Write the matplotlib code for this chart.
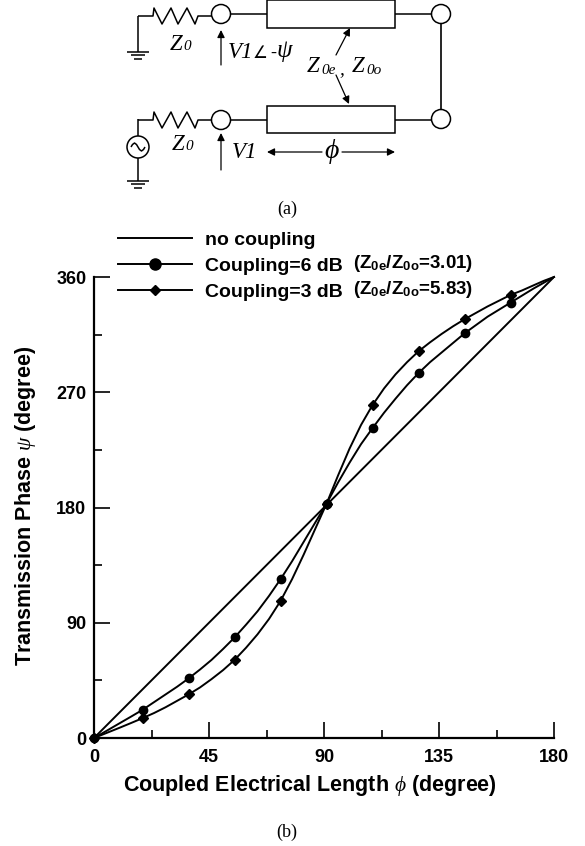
import matplotlib
matplotlib.use('Agg')
import matplotlib.pyplot as plt
from matplotlib.patches import Circle, Rectangle

plt.rcParams['font.family'] = ['Liberation Sans', 'DejaVu Sans']
plt.rcParams['mathtext.fontset'] = 'custom'
plt.rcParams['mathtext.bf'] = 'Liberation Sans:bold'
plt.rcParams['mathtext.it'] = 'Liberation Serif:italic'
plt.rcParams['mathtext.rm'] = 'Liberation Sans:bold'

# data
phi_line = [0, 180]
psi_line = [0, 360]

phi = [0, 5, 10, 14.5, 19, 23.5, 28, 32.5, 37, 41.5, 46, 50.5, 55, 59.5, 64, 68.5, 73, 77.5, 82, 86.5, 91,
       95.5, 100, 104.5, 109, 113.5, 118, 122.5, 127, 131.5, 136, 140.5, 145, 149.5, 154, 158.5, 163,
       167.5, 172, 176, 180]
psi_6db = [0, 5.7, 11.5, 16.7, 22, 28, 34, 40, 46.5, 53.5, 61, 69.5, 78.5, 88.5, 99, 111, 124, 138, 153, 168, 183,
           199.5, 215, 229.5, 242, 254, 265, 275.5, 285, 293.5, 301, 308.5, 316, 322.5, 329, 334.5, 340,
           345.5, 351, 355.5, 360]
psi_3db = [0, 4, 8, 11.7, 15.5, 19.5, 24, 29, 34, 39.5, 46, 53, 61, 70.5, 81, 93, 107, 124, 143, 163, 183,
           205, 226, 244.5, 260, 273, 284, 293.5, 302, 309, 315.5, 321.5, 327, 332, 337, 341.5, 346,
           349.5, 353.5, 357, 360]
phi_marks = [0, 19, 37, 55, 73, 91, 109, 127, 145, 163]
marked = [phi.index(v) for v in phi_marks]

x_major = [0, 45, 90, 135, 180]
x_minor = [22.5, 67.5, 112.5, 157.5]
y_major = [0, 90, 180, 270, 360]
y_minor = [45, 135, 225, 315]

W, H = 585, 846
fig = plt.figure(figsize=(W / 100, H / 100), dpi=100)

# chart (b)
ax = fig.add_axes([94 / W, (H - 738) / H, 460 / W, 461 / H])
ax.plot(phi_line, psi_line, color='black', lw=1.4, label='no coupling')
ax.plot(phi, psi_6db, color='black', lw=1.4, marker='o', ms=6, markevery=marked,
        clip_on=False, label='Coupling=6 dB')
ax.plot(phi, psi_3db, color='black', lw=1.4, marker='D', ms=5.5, markevery=marked,
        clip_on=False, label='Coupling=3 dB')
ax.set_xlim(0, 180)
ax.set_ylim(0, 360)
ax.set_xticks(x_major)
ax.set_xticks(x_minor, minor=True)
ax.set_yticks(y_major)
ax.set_yticks(y_minor, minor=True)
ax.tick_params(which='major', direction='in', length=11.5, width=1.2)
ax.tick_params(axis='x', which='major', pad=8)
ax.tick_params(axis='y', which='major', pad=5.5)
ax.tick_params(which='minor', direction='in', length=6, width=1.2)
for lab in ax.get_xticklabels() + ax.get_yticklabels():
    lab.set_fontsize(13)
    lab.set_fontweight('bold')
for s in ['top', 'right']:
    ax.spines[s].set_visible(False)
for s in ['left', 'bottom']:
    ax.spines[s].set_linewidth(1.6)
ax.set_xlabel(r'Coupled Electrical Length $\phi$ (degree)', fontsize=15.5, fontweight='bold')
ax.set_ylabel(r'Transmission Phase $\psi$ (degree)', fontsize=15.5, fontweight='bold')
ax.xaxis.set_label_coords(0.47, -0.076)
ax.yaxis.set_label_coords(-0.122, 0.503)

leg = ax.legend(loc='upper left', bbox_to_anchor=(118 / W, (H - 231.5) / H),
                bbox_transform=fig.transFigure, frameon=False,
                handlelength=3.8, handletextpad=0.67, labelspacing=0.42,
                borderpad=0, borderaxespad=0,
                prop={'weight': 'bold', 'size': 14})
leg.legend_handles[1].set_markersize(8)

# overlay in pixel coordinates for the circuit and the notes
ov = fig.add_axes([0, 0, 1, 1])
ov.set_xlim(0, W)
ov.set_ylim(H, 0)
ov.axis('off')
ov.patch.set_alpha(0)

ov.text(353, 264, r'(Z$_{\mathbf{0e}}$/Z$_{\mathbf{0o}}$=3.01)', fontsize=13.5,
        fontweight='bold', va='center')
ov.text(353, 289, r'(Z$_{\mathbf{0e}}$/Z$_{\mathbf{0o}}$=5.83)', fontsize=13.5,
        fontweight='bold', va='center')


def wire(xs, ys, lw=1.1, z=2):
    ov.plot(xs, ys, color='black', lw=lw, solid_capstyle='butt', zorder=z)


def resistor(y):
    wire([138, 153, 154, 162, 171, 178, 187, 195, 198, 212],
         [y, y, y - 8, y + 8, y - 8, y + 8, y - 8, y + 8, y, y])


def ground(x, y):
    for half, dy in [(11, 0), (7, 3.5), (4, 7)]:
        wire([x - half, x + half], [y + dy, y + dy])


def arrow(start, end):
    ov.annotate('', xy=end, xytext=start,
                arrowprops=dict(arrowstyle='-|>', color='black', lw=0.9,
                                mutation_scale=11, shrinkA=0, shrinkB=0))


def label(x, y, s, size=16.5, **kw):
    ov.text(x, y, s, fontsize=size, family=['Liberation Serif', 'DejaVu Serif'],
            style='italic', ha='left', va='center', **kw)


# top branch
resistor(16)
wire([138, 138], [16, 52])
ground(138, 52)
wire([231, 267], [14, 14])
wire([395, 431], [14, 14])
ov.add_patch(Rectangle((267, 0), 128, 28, fc='white', ec='black', lw=1.1))

# bottom branch
resistor(120)
wire([138, 138], [119, 181])
ground(138, 181)
ov.add_patch(Circle((138, 147), 11, fc='white', ec='black', lw=1.1, zorder=3))
wire([131, 132.5, 134.5, 136.5, 138, 139.5, 141.5, 143.5, 145],
     [147, 144.5, 143, 144.5, 147, 149.5, 151, 149.5, 147], z=4)
wire([231, 267], [120, 120])
wire([395, 431], [120, 120])
ov.add_patch(Rectangle((267, 106), 128, 27, fc='white', ec='black', lw=1.1))
wire([441, 441], [24, 110], lw=1.2)

for cx, cy in [(221, 14), (441, 14), (221, 120), (441, 119)]:
    ov.add_patch(Circle((cx, cy), 9.5, fc='white', ec='black', lw=1.1, zorder=3))

arrow((221, 65), (221, 30))
arrow((221, 170), (221, 133))
arrow((336, 55), (350, 28))
arrow((336, 75), (349, 104))
arrow((322, 152), (267, 152))
arrow((342, 152), (395, 152))

label(170, 45, 'Z')
label(183, 47, '0', size=11)
label(172, 145, 'Z')
label(185, 147, '0', size=11)
label(228, 52, 'V1')
ov.text(253, 53, '\u2220', fontsize=12, family='DejaVu Sans', ha='left', va='center')
label(270, 53, '-', size=13)
label(277, 51, '\u03c8', size=18)
label(232, 153, 'V1')
label(307, 67, 'Z')
label(321, 70, '0e', size=11)
label(339, 70, ',', size=14)
label(352, 67, 'Z')
label(366, 70, '0o', size=11)
ov.text(332, 152, '\u03d5', fontsize=20, family=['Liberation Serif', 'DejaVu Serif'], style='italic',
        ha='center', va='center')

# captions
ov.text(287, 209, '(a)', fontsize=13, family='Liberation Serif', ha='center', va='center')
ov.text(287, 832, '(b)', fontsize=13, family='Liberation Serif', ha='center', va='center')

fig.savefig('out.png', dpi=100)
